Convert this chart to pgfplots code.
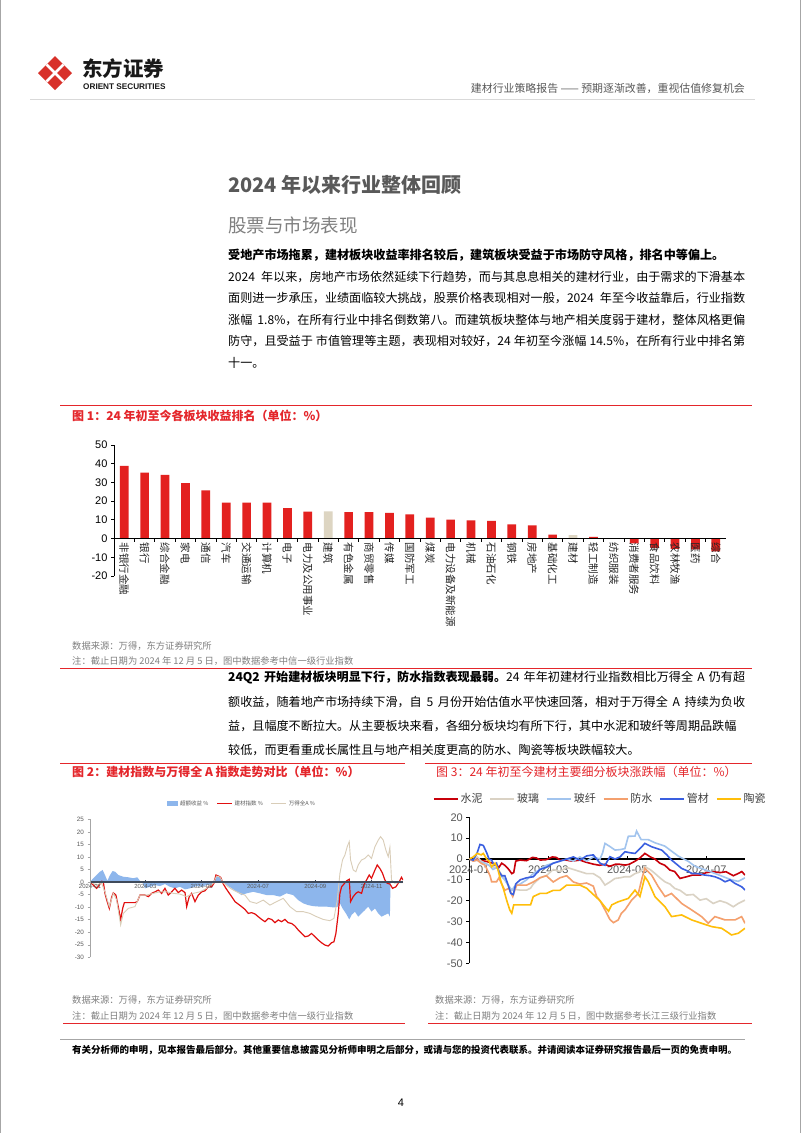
\documentclass[border=0pt]{standalone}
\usepackage{fontspec}
\setmainfont{Noto Sans CJK SC}
\newfontfamily\arial{Liberation Sans}
\usepackage{pgfplots}
\pgfplotsset{compat=1.18}
\XeTeXlinebreaklocale "zh"
\XeTeXlinebreakskip=0pt plus 1pt
\newcommand\fs[1]{\fontsize{#1}{#1}\selectfont}
\definecolor{figred}{HTML}{E4262B}
\definecolor{barred}{HTML}{E3211F}
\definecolor{barbeige}{HTML}{DDD5C2}
\definecolor{c59}{HTML}{595959}
\definecolor{c80}{HTML}{808080}
\definecolor{logored}{HTML}{D8312A}
\definecolor{areablue}{HTML}{8DB6EC}
\definecolor{lred}{HTML}{E10F0F}
\definecolor{lbeige}{HTML}{D9CDB8}
\definecolor{navy}{HTML}{3F4A5A}
\definecolor{cement}{HTML}{C8000A}
\definecolor{glass}{HTML}{DAD2C4}
\definecolor{gfiber}{HTML}{A2C4EE}
\definecolor{water}{HTML}{F4A06E}
\definecolor{pipe}{HTML}{3A5FE0}
\definecolor{ceram}{HTML}{FFBE0A}
\newcommand\jline[2]{\node[anchor=west,inner sep=0pt] at (228pt,-#1pt) {\fs{12.1}\makebox[517pt][s]{#2}};}
\newcommand\pline[2]{\node[anchor=west,inner sep=0pt] at (228pt,-#1pt) {\fs{12.1}#2};}
\begin{document}
\begin{tikzpicture}
\fill[white] (0,0) rectangle (802pt,-1133pt);
\path[use as bounding box] (0,0) rectangle (802pt,-1133pt);
\draw[gray!70, line width=1pt] (0.5pt,0) -- (0.5pt,-1133pt);
\draw[gray!70, line width=1pt] (800.5pt,0) -- (800.5pt,-1133pt);
% logo
\fill[logored] (55pt,-56pt) -- (72pt,-73pt) -- (55pt,-90pt) -- (38pt,-73pt) -- cycle;
\draw[white, line width=2.6pt] (63.5pt,-64.5pt) -- (46.5pt,-81.5pt);
\draw[white, line width=2.6pt] (46.5pt,-64.5pt) -- (63.5pt,-81.5pt);
\node[anchor=west, inner sep=0pt, text=black!90] at (82pt,-68.5pt) {\fs{20.5}\bfseries 东方证券};
\node[anchor=west, inner sep=0pt, text=black!90] at (83pt,-86.5pt) {\arial\bfseries\fs{8.2}ORIENT SECURITIES};
\node[anchor=east, inner sep=0pt, text=c59] at (745pt,-88pt) {\fs{10.9}建材行业策略报告 —— 预期逐渐改善，重视估值修复机会};
\draw[gray!30, line width=0.8pt] (30pt,-99pt) -- (755pt,-99pt);
% headings
\node[anchor=west, inner sep=0pt, text=c59] at (228pt,-185pt) {\fs{20}\bfseries 2024 年以来行业整体回顾};
\node[anchor=west, inner sep=0pt, text=c80] at (228pt,-225pt) {\fs{18.5}股票与市场表现};
% paragraph 1
\pline{255}{\bfseries 受地产市场拖累，建材板块收益率排名较后，建筑板块受益于市场防守风格，排名中等偏上。}
\jline{277}{2024 年以来，房地产市场依然延续下行趋势，而与其息息相关的建材行业，由于需求的下滑基本}
\jline{298.5}{面则进一步承压，业绩面临较大挑战，股票价格表现相对一般，2024 年至今收益靠后，行业指数}
\jline{320}{涨幅 1.8\%，在所有行业中排名倒数第八。而建筑板块整体与地产相关度弱于建材，整体风格更偏}
\jline{341.5}{防守，且受益于 市值管理等主题，表现相对较好，24 年初至今涨幅 14.5\%，在所有行业中排名第}
\pline{363}{十一。}
% figure 1 frame
\draw[figred, line width=0.8pt] (60pt,-405pt) -- (752pt,-405pt);
\node[anchor=west, inner sep=0pt, text=figred] at (72pt,-416pt) {\fs{12}\bfseries 图 1：24 年初至今各板块收益排名（单位：\%）};
\node[anchor=west, inner sep=0pt, text=c80] at (72pt,-646pt) {\fs{9.3}数据来源：万得，东方证券研究所};
\node[anchor=west, inner sep=0pt, text=c80] at (72pt,-661pt) {\fs{9.3}注：截止日期为 2024 年 12 月 5 日，图中数据参考中信一级行业指数};
\draw[figred, line width=0.8pt] (60pt,-668pt) -- (752pt,-668pt);
\begin{axis}[
  at={(114pt,-576pt)}, anchor=south west, scale only axis,
  width=612pt, height=131pt,
  xmin=-0.5, xmax=29.5, ymin=-20, ymax=50,
  axis x line=middle, axis y line=left,
  axis line style={-, black, line width=0.9pt},
  axis on top,
  xtick={0,...,29},
  xticklabels={非银行金融,银行,综合金融,家电,通信,汽车,交通运输,计算机,电子,电力及公用事业,建筑,有色金属,商贸零售,传媒,国防军工,煤炭,电力设备及新能源,机械,石油石化,钢铁,房地产,基础化工,建材,轻工制造,纺织服装,消费者服务,食品饮料,农林牧渔,医药,综合},
  major x tick style={draw=none},
  minor x tick num=1, minor x tick style={black, line width=0.8pt},
  minor tick length=3pt, major tick length=3pt,
  tick align=outside,
  ytick={-20,-10,...,50}, y tick style={black, line width=0.8pt},
  yticklabel style={font=\arial\fs{11}, text=black, /pgf/number format/assume math mode=true},
  xticklabel style={rotate=-90, anchor=west, font=\fs{10.5}, text=black!85, inner sep=1pt},
]
\addplot[ybar, bar width=8.7pt, bar shift=0pt, fill=barred, draw=none] coordinates {
(0,38.8) (1,35.2) (2,34.0) (3,29.7) (4,25.8) (5,19.2) (6,19.2) (7,19.2) (8,16.3) (9,14.4)
(11,14.1) (12,14.1) (13,13.7) (14,13.0) (15,11.2) (16,10.1) (17,9.7) (18,9.4) (19,7.6) (20,7.1)
(21,2.1) (23,0.9) (24,-0.2) (25,-2.5) (26,-5.0) (27,-5.5) (28,-5.8) (29,-6.8)};
\addplot[ybar, bar width=8.7pt, bar shift=0pt, fill=barbeige, draw=none] coordinates {(10,14.5) (22,1.8)};
\end{axis}
% paragraph 2
\pline{678}{\makebox[517pt][s]{{\bfseries 24Q2 开始建材板块明显下行，防水指数表现最弱。}24 年年初建材行业指数相比万得全 A 仍有超}}
\jline{702}{额收益，随着地产市场持续下滑，自 5 月份开始估值水平快速回落，相对于万得全 A 持续为负收}
\jline{726}{益，且幅度不断拉大。从主要板块来看，各细分板块均有所下行，其中水泥和玻纤等周期品跌幅}
\pline{750}{较低，而更看重成长属性且与地产相关度更高的防水、陶瓷等板块跌幅较大。}
% figure 2 frame
\draw[figred, line width=0.8pt] (60pt,-763pt) -- (405pt,-763pt);
\node[anchor=west, inner sep=0pt, text=figred] at (72pt,-772pt) {\fs{12}\bfseries 图 2：建材指数与万得全 A 指数走势对比（单位：\%）};
\node[anchor=west, inner sep=0pt, text=c80] at (72pt,-1000pt) {\fs{9.3}数据来源：万得，东方证券研究所};
\node[anchor=west, inner sep=0pt, text=c80] at (72pt,-1016pt) {\fs{9.3}注：截止日期为 2024 年 12 月 5 日，图中数据参考中信一级行业指数};
\draw[figred, line width=0.8pt] (63pt,-1023pt) -- (405pt,-1023pt);
\begin{axis}[
  at={(90pt,-957.3pt)}, anchor=south west, scale only axis,
  width=313pt, height=138pt,
  xmin=0, xmax=339, ymin=-30, ymax=25,
  axis x line=middle, axis y line=left,
  hide obscured x ticks=false,
  x axis line style={-, draw=navy, line width=1.4pt},
  y axis line style={-, draw=gray!70, line width=0.6pt},
  axis on top,
  xtick={0,60,121,182,244,305},
  xticklabels={2024-01,2024-03,2024-05,2024-07,2024-09,2024-11},
  xticklabel style={font=\arial\fs{6}, text=c59, anchor=north, inner sep=1pt, yshift=-1pt},
  ytick={-30,-25,...,25},
  yticklabel style={font=\arial\fs{6.3}, text=c59, /pgf/number format/assume math mode=true},
  tick style={gray!70, line width=0.5pt}, major tick length=2.5pt,
  x tick style={navy, line width=0.6pt}, xtick align=inside,
  ytick align=outside,
  legend style={at={(0.486,1.115)}, anchor=center, draw=none, fill=none, legend columns=-1,
    font=\fs{5.5}, text=c59, inner sep=0pt, /tikz/every even column/.append style={column sep=6pt}},
  legend image code/.code={\draw[#1] (0pt,0pt) -- (15pt,0pt);},
]
\addplot[fill=areablue, draw=none, legend image code/.code={\fill[areablue] (0pt,-2.3pt) rectangle (11pt,2.3pt);}] coordinates {
(0,0) (3.6,1.5) (7.2,2.8) (10.8,4.1) (13.7,4.8) (16.2,2.8) (18.8,0.5) (21.7,2.8) (24.5,4.4) (27.1,4.1)
(30.7,2.8) (36.1,2.1) (41.5,1.9) (46.9,1.5) (51.2,1.9) (54.1,0.5) (57,0) (59.5,-2.5) (65,-1.9) (70.4,-1.2)
(75.8,-1.6) (81.2,-0.8) (86.6,-1.9) (92,-2.5) (97.4,-1.9) (102.9,-2.9) (108.3,-2.5) (115.5,-1.6) (120.9,-1.9)
(126.3,-1.2) (131.7,-0.8) (135.3,1.5) (137.9,2.8) (140.7,2.1) (144.4,0) (148,-1.2) (153.4,-2.5) (158.8,-3.9)
(164.2,-5.2) (169.6,-4.5) (176.8,-3.9) (184,-4.5) (191.3,-5.2) (198.5,-5.2) (205.7,-5.8) (212.9,-4.5)
(220.1,-5.2) (225.5,-7.2) (231,-8.5) (236.4,-9.2) (241.8,-9.6) (249,-9.8) (256.2,-9.8) (263.4,-10.1)
(267.8,-10) (270.7,-8.5) (273.5,-10.5) (277.2,-12.5) (280.8,-14.9) (283.3,-13.1) (286.9,-11.8) (290.5,-13.8)
(294.1,-12.5) (297.7,-11.2) (301.3,-9.8) (304.9,-11.8) (308.6,-10.5) (312.2,-12.5) (315.8,-13.8)
(319.4,-13.1) (323,-12.5) (324.8,-13.8) (325.5,0)} \closedcycle;
\addlegendentry{超额收益 \%}
\addplot[lred, line width=1.2pt] coordinates {
(0,0) (3.6,-1.2) (7.2,-2.5) (10.1,-1.2) (12.6,0.3) (14.4,0.1) (16.2,-4.5) (18,-7) (20.9,-10.5) (23.5,-6)
(25.3,-4.3) (28.1,-5.2) (30.7,-10) (33.2,-15) (35.4,-10.5) (37.2,-8.2) (43.3,-8.2) (48.7,-8.2) (51.2,-7.8)
(54.1,-5.2) (59.5,-5.2) (63.2,-5.8) (66.8,-4.5) (70.4,-3.9) (74,-3.2) (77.6,-4.5) (81.2,-2.5) (84.8,-5.2)
(88.4,-3.9) (92,-2.5) (95.6,-4.2) (99.2,-3.2) (102.9,-4.2) (104.7,-9.8) (107.5,-5.8) (110.1,-4.5)
(113.7,-7.8) (117.3,-5.2) (120.9,-3.9) (124.5,-3.5) (128.1,-1.9) (131.7,-1.9) (134.2,-0.5) (136.4,2.8)
(138.9,2.4) (141.5,1.9) (144.4,-0.8) (147.2,-2.5) (149.8,-3.9) (153.4,-5.8) (157,-7.8) (160.6,-8.8)
(164.2,-9.8) (167.8,-10.9) (171.4,-12.5) (175,-12.2) (178.6,-12.7) (182.2,-13.8) (185.9,-14.9)
(189.5,-15.8) (193.1,-14.5) (196.7,-14.9) (200.3,-16.2) (203.9,-15.1) (207.5,-15.8) (211.1,-14.9)
(214.7,-16.2) (218.3,-16.5) (221.9,-17.5) (225.5,-19.1) (229.2,-20.5) (232.8,-21.8) (236.4,-21.5)
(240,-20.5) (243.6,-21.8) (247.2,-23.1) (250.8,-24.2) (254.4,-25.1) (258,-25.5) (261.6,-24.2)
(264.2,-23.8) (266.3,-20.5) (268.9,-12.5) (270.7,-4.5) (272.5,-1.9) (275,-0.8) (277.9,0.5) (280.8,1.1)
(282.2,-7.8) (285.1,-5.8) (288,-4.5) (290.5,-3.9) (294.1,-4.5) (296.6,-1.2) (299.5,0.8) (302.4,2.8)
(304.9,1.5) (308.6,4.8) (311.1,6.8) (314,5.4) (316.8,3.5) (319.4,0.8) (321.9,-0.5) (324.8,-0.8)
(327.7,-2.5) (331.3,-1.9) (334.9,0.1) (337.4,1.9) (339,0.8)};
\addlegendentry{建材指数 \%}
\addplot[lbeige, line width=0.9pt] coordinates {
(0,0) (7.2,-1.2) (12.6,-0.5) (16.2,-3.9) (20.9,-9.8) (25.3,-4.5) (28.9,-7.2) (33.2,-17.1) (36.1,-12.5)
(41.5,-10.5) (48.7,-9.8) (54.1,-5.2) (61.3,-5.2) (68.6,-4.5) (75.8,-3.9) (83,-3.9) (90.2,-4.5) (97.4,-4.8)
(104.7,-5.8) (111.9,-4.5) (119.1,-3.9) (126.3,-2.5) (133.5,-0.5) (137.1,2.4) (140.7,2.0) (144.4,-0.3)
(149.8,-1.9) (155.2,-3.2) (162.4,-4.5) (167.8,-5.2) (173.2,-7.8) (180.4,-8.5) (187.7,-7.2) (194.9,-9.2)
(202.1,-7.8) (209.3,-6.5) (216.5,-9.8) (223.7,-11.8) (231,-11.8) (238.2,-12.5) (245.4,-13.8) (252.6,-14.9)
(259.8,-15.4) (264.2,-14.5) (267.8,-7.2) (270.7,3.5) (273.5,8.8) (276.1,10.8) (278.6,14.1) (280.8,16.1)
(282.2,8.8) (285.1,4.8) (288,4.1) (290.5,6.8) (294.1,8.8) (297.7,9.4) (301.3,10.8) (304.9,9.4)
(308.6,14.1) (312.2,16.7) (314.7,18.1) (317.6,16.7) (320.5,12.7) (323,10.1) (324.8,13.8) (326.6,0.8)
(330.2,-0.5) (333.8,-0.3) (339,-0.3)};
\addlegendentry{万得全A \%}
\end{axis}
% figure 3 frame
\draw[figred, line width=0.8pt] (425pt,-763pt) -- (752pt,-763pt);
\node[anchor=west, inner sep=0pt, text=figred] at (436pt,-772pt) {\fs{12}图 3：24 年初至今建材主要细分板块涨跌幅（单位：\%）};
\node[anchor=west, inner sep=0pt, text=c80] at (435pt,-1000pt) {\fs{9.3}数据来源：万得，东方证券研究所};
\node[anchor=west, inner sep=0pt, text=c80] at (435pt,-1016pt) {\fs{9.3}注：截止日期为 2024 年 12 月 5 日，图中数据参考长江三级行业指数};
\draw[figred, line width=0.8pt] (428pt,-1023pt) -- (752pt,-1023pt);
\begin{axis}[
  at={(469.3pt,-963.3pt)}, anchor=south west, scale only axis,
  width=275.7pt, height=146pt,
  xmin=0, xmax=139.6, ymin=-50, ymax=20,
  axis x line=middle, axis y line=left,
  hide obscured x ticks=false,
  axis line style={-, black, line width=1.2pt},
  xtick={0,40,80,120},
  xticklabels={2024-01,2024-03,2024-05,2024-07},
  xticklabel style={font=\arial\fs{11}, text=c59, anchor=north, inner sep=1pt, yshift=-5.5pt},
  ytick={-50,-40,...,20},
  yticklabel style={font=\arial\fs{11}, text=c59, /pgf/number format/assume math mode=true},
  tick style={black, line width=0.9pt}, major tick length=3pt,
  xtick align=inside, ytick align=outside,
  legend style={at={(0.475,1.125)}, anchor=center, draw=none, fill=none, legend columns=-1,
    font=\fs{11}, text=black!75, inner sep=0pt, /tikz/every even column/.append style={column sep=5pt}},
  legend image code/.code={\draw[#1] (0pt,0pt) -- (24pt,0pt);},
]
\addplot[cement, line width=1.6pt] coordinates {
(0,0) (2,-0.5) (4,0.3) (6,-0.8) (8,-1) (10,-1.5) (12,-2) (13.8,-3) (15,-4) (16.4,-2) (18,-3) (20,-5)
(21.5,-7) (22.5,-6.5) (23.5,-1) (25.7,-0.5) (29,-0.8) (32,0.8) (34,0.5) (36,-0.5) (39,-0.3) (42,1) (44,0.8)
(46,-0.5) (49,-0.5) (52,-1) (56,-0.5) (59,-1.5) (63,-2.5) (66,-3) (68.7,-2.5) (71,-3.5) (74,-2.5) (76,-2.5)
(79,-2.9) (81,-2.5) (84,-1) (86.4,0.5) (88.9,2.7) (91.5,1.1) (94,0) (96.5,-2) (99,-3) (101.6,-5.3) (104,-6)
(106.7,-9.3) (110,-8.5) (113,-7.7) (117,-7.7) (120,-6.5) (123.5,-6.1) (127,-6.5) (130,-6.1) (133.7,-8)
(136,-7) (138,-6) (139.6,-7.7)};
\addlegendentry{水泥}
\addplot[glass, line width=1.6pt] coordinates {
(0,0) (2,-0.5) (4,1) (6,-1) (8,-2) (10,-3) (12,-4) (14,-4) (16,-7) (18,-10) (20,-13) (21.5,-14.9) (23,-14.5)
(25.7,-14.9) (29,-14.9) (31,-14) (32.4,-12) (35.8,-9) (39,-8) (42.5,-5) (45.9,-6) (49.3,-4) (52.7,-5) (56,-6)
(59.4,-7) (62.8,-7) (66.2,-9) (68.7,-12.5) (71.2,-11) (73.8,-9.3) (76.3,-9) (78.8,-8.5) (81.4,-8.5) (83.9,-7)
(86.4,-6.1) (88.9,-3.7) (91.5,-5) (94,-6.9) (96.5,-9) (99,-10.9) (101.6,-12) (104,-14.1) (106.7,-15)
(110,-17.3) (113.4,-17) (116.8,-19.7) (120,-19) (123.5,-21.3) (126.9,-20) (130.3,-21) (133.7,-22.9)
(136.2,-21.3) (139.6,-19.7)};
\addlegendentry{玻璃}
\addplot[gfiber, line width=1.6pt] coordinates {
(0,0) (2,-1) (4,-0.5) (6,-1.5) (8,-2) (10,-3) (12,-5) (14,-4) (16,-8) (18,-10) (20,-13) (21.5,-15) (23,-13)
(25.7,-12) (29,-10) (32.4,-7) (35.8,-5) (39,-3) (42.5,-2) (45.9,-1) (49.3,0) (52.7,-1) (56,1) (59.4,-1)
(62.8,1) (66.2,0) (67.5,3) (68.7,7.5) (71.2,6) (73.8,4.3) (76.3,4.5) (78.8,5) (80.5,10.9) (83.9,11)
(84.7,13.4) (87,9.3) (90.6,9.3) (94,7.8) (99,6.2) (102.4,3.8) (105.8,1.4) (110.9,-1.1) (114.3,-3.5)
(119.3,-5.1) (126,-7.5) (132.8,-10) (136.2,-10.7) (139.6,-9)};
\addlegendentry{玻纤}
\addplot[water, line width=1.6pt] coordinates {
(0,0) (2,-1) (4,-0.5) (6,-2) (8,-3) (9.5,-6) (10.5,-8) (11.3,-10.9) (13.8,-10.9) (15,-9) (16.4,-12) (18,-15)
(20,-14) (22,-18) (23,-15) (24,-12.5) (25.7,-12.5) (29,-12.5) (32.4,-11) (35.8,-9) (39,-8) (42.5,-11)
(45.9,-9) (49.3,-8) (52.7,-11) (56,-12) (59.4,-11.5) (62.8,-13) (64.5,-18) (66.2,-20) (68.7,-24.4) (71.2,-29)
(73,-30.5) (75.4,-29.2) (77,-26) (78.8,-24.4) (82.2,-19.7) (85.6,-16.5) (87.5,-9) (88.9,-4.5) (92.3,-7.7)
(95.7,-13.3) (99.1,-18) (102.4,-16.5) (107.5,-21.3) (112.6,-24.4) (117.6,-27.6) (121,-30.8) (124.4,-27.6)
(129.5,-29.2) (134.5,-29.2) (137.9,-27.6) (139.6,-30.8)};
\addlegendentry{防水}
\addplot[pipe, line width=1.6pt] coordinates {
(0,0) (2,-0.5) (4,3) (5.4,7) (7.1,6.5) (8.8,3) (10,0) (11.3,-0.5) (12.5,-3) (13.8,-2) (15,-6) (16.4,-8)
(18,-8) (19.5,-12) (21,-16.5) (22.3,-17) (23.5,-12) (25.7,-10) (29,-9) (32.4,-8.5) (35.8,-5) (39,-4)
(42.5,-2) (45.9,-1) (49.3,0) (52.7,1) (56,-0.5) (59.4,1.5) (62.8,2) (66.2,-2) (68.7,-3) (71.2,1.1) (73.8,0)
(76.3,1) (78.8,3.5) (81.4,3) (83.9,2.7) (86.4,5) (88.9,7.5) (92.3,5.9) (97.4,4.3) (100,2) (102.4,-0.5)
(105,-2.5) (107.5,-4.5) (110,-5.5) (112.6,-6.9) (116,-7) (119.3,-7.7) (122,-8) (124.4,-8.5) (127,-9.5)
(129.5,-10.9) (132,-10) (134.5,-11.7) (137.9,-13.3) (139.6,-14.9)};
\addlegendentry{管材}
\addplot[ceram, line width=1.6pt] coordinates {
(0,0) (2,1) (4,2.7) (6,2) (7.1,2.7) (8.8,0) (10,-1) (11.3,-3.7) (13,-2) (14.5,-5) (16,-10.7) (17.5,-15)
(19,-20) (20.5,-24.4) (21.5,-26) (22.5,-22) (25.7,-22) (29,-22) (31,-22) (32.4,-18) (35.8,-16.5) (39,-16.5)
(42.5,-15) (45.9,-15) (49.3,-12.5) (52.7,-12.5) (56,-12.5) (59.4,-14) (62.8,-17) (66.2,-20) (68.7,-23)
(70.5,-25) (72.1,-22) (75.4,-20.5) (80.5,-18.9) (83.9,-14.9) (86.4,-18) (88.9,-8.5) (90.6,-10.9) (94,-18)
(99.1,-22.9) (102.4,-27.6) (107.5,-26.8) (112.6,-29.2) (117.6,-30.8) (122.7,-32.4) (127.8,-33.2)
(132.8,-36.4) (136.2,-35.6) (139.6,-33.2)};
\addlegendentry{陶瓷}
\end{axis}
% footer
\draw[gray!70, line width=0.8pt] (60pt,-1039pt) -- (745pt,-1039pt);
\node[anchor=west, inner sep=0pt, text=black] at (72pt,-1050pt) {\fs{9.5}\bfseries 有关分析师的申明，见本报告最后部分。其他重要信息披露见分析师申明之后部分，或请与您的投资代表联系。并请阅读本证券研究报告最后一页的免责申明。};
\node[inner sep=0pt, text=black] at (401pt,-1103pt) {\arial\fs{11}4};
\end{tikzpicture}
\end{document}
